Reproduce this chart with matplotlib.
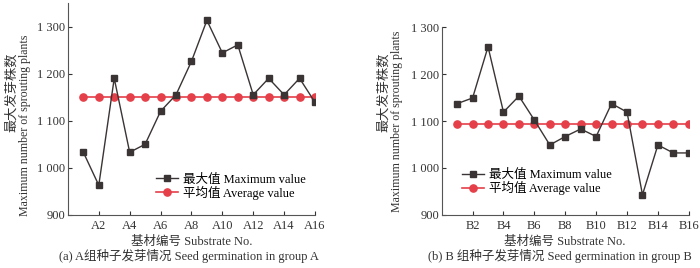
import matplotlib
matplotlib.use("Agg")
import matplotlib.pyplot as plt
from matplotlib.ticker import FuncFormatter

plt.rcParams['font.family'] = ['Liberation Serif', 'Noto Sans CJK SC']
plt.rcParams['axes.unicode_minus'] = False

idx = list(range(1, 17))
a_max = [1033, 963, 1190, 1033, 1050, 1120, 1155, 1226, 1313, 1244, 1261, 1155, 1190, 1155, 1190, 1139]
a_avg = [1151] * 16
b_max = [1137, 1149, 1258, 1119, 1153, 1102, 1049, 1067, 1083, 1067, 1137, 1119, 943, 1049, 1032, 1032]
b_avg = [1094] * 16
a_ticks = ['A2', 'A4', 'A6', 'A8', 'A10', 'A12', 'A14', 'A16']
b_ticks = ['B2', 'B4', 'B6', 'B8', 'B10', 'B12', 'B14', 'B16']

max_color = '#3b3434'
avg_color = '#e5404a'
txt_color = '#333333'

W, H = 700, 268
fig = plt.figure(figsize=(7, 2.68), dpi=100)
axA = fig.add_axes([0.097, 0.198, 0.353, 0.791])
axB = fig.add_axes([0.631, 0.198, 0.353, 0.701])

def fmt(v, p):
    v = int(round(v))
    if v >= 1000:
        return f"{v // 1000} {v % 1000:03d}"
    return str(v)

def draw(ax, mx, av, ticks, top):
    ax.plot(idx, mx, color=max_color, lw=1.0, marker='s', ms=4.2,
            label='最大值 Maximum value', zorder=3)
    ax.plot(idx, av, color=avg_color, lw=1.2, marker='o', ms=5.2,
            label='平均值 Average value', zorder=2)
    ax.set_xlim(0, 16)
    ax.set_ylim(900, top)
    ax.set_xticks(list(range(2, 17, 2)))
    ax.set_xticklabels(ticks)
    ax.set_yticks([900, 1000, 1100, 1200, 1300])
    ax.yaxis.set_major_formatter(FuncFormatter(fmt))
    ax.tick_params(direction='in', length=3, width=0.8, labelsize=9, colors=txt_color)
    ax.tick_params(axis='x', pad=3.5)
    ax.tick_params(axis='y', pad=2)
    for s in ['top', 'right']:
        ax.spines[s].set_visible(False)
    for s in ['left', 'bottom']:
        ax.spines[s].set_color('#555555')
        ax.spines[s].set_linewidth(0.8)
    ax.set_xlabel('基材编号 Substrate No.', fontsize=9, color=txt_color, labelpad=3)
    ax.set_facecolor('none')

draw(axA, a_max, a_avg, a_ticks, 1350)
draw(axB, b_max, b_avg, b_ticks, 1300)

# y labels: two lines placed separately
for cx, cy, ex, ey in [(12, 92, 25, 125), (384, 92, 397, 121)]:
    fig.text(cx / W, 1 - cy / H, '最大发芽株数', rotation=90, ha='center', va='center',
             fontsize=9.5, color=txt_color)
    fig.text(ex / W, 1 - ey / H, 'Maximum number of sprouting plants', rotation=90,
             ha='center', va='center', fontsize=8.6, color=txt_color)

axA.legend(loc='lower right', bbox_to_anchor=(1.0, 0.03), frameon=False, fontsize=9,
           handlelength=1.8, handletextpad=0.4, labelspacing=0.0, borderaxespad=0.3)
axB.legend(loc='lower left', bbox_to_anchor=(0.05, 0.065), frameon=False, fontsize=9,
           handlelength=1.8, handletextpad=0.4, labelspacing=0.0, borderaxespad=0.2)

fig.text(0.27, 1 - 256 / H, '(a) A组种子发芽情况 Seed germination in group A', ha='center',
         va='center', fontsize=9, color=txt_color)
fig.text(0.80, 1 - 256 / H, '(b) B 组种子发芽情况 Seed germination in group B', ha='center',
         va='center', fontsize=9, color=txt_color)

fig.savefig('out.png', dpi=100, facecolor='white')
